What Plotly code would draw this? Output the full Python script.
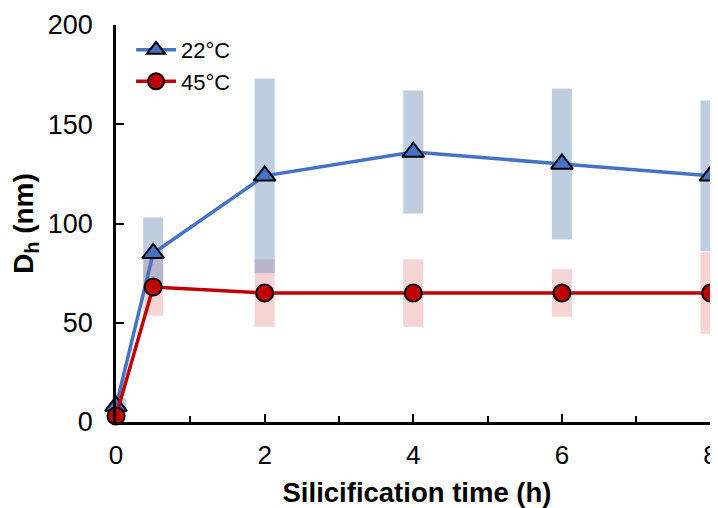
import plotly.graph_objects as go

time_h = [0, 0.5, 2, 4, 6, 8]
dh_22 = [8, 85, 124, 136, 130, 124]
err_22 = [4, 18, 49, 31, 38, 38]
dh_45 = [3, 68, 65, 65, 65, 65]
err_45 = [2, 14.5, 17, 17, 12, 20.5]
x_ticks = [0, 2, 4, 6, 8]
y_ticks = [0, 50, 100, 150, 200]

FONT = "Liberation Sans, Arial, sans-serif"
BLUE = "#4472C4"
RED = "#C00000"

fig = go.Figure()

# shaded ranges (red first, blue over it)
fig.add_trace(go.Bar(
    x=time_h, y=[2 * e for e in err_45], base=[m - e for m, e in zip(dh_45, err_45)],
    width=0.27, marker=dict(color="rgba(228,120,120,0.32)", line=dict(width=0)),
    showlegend=False, hoverinfo="skip"))
fig.add_trace(go.Bar(
    x=time_h, y=[2 * e for e in err_22], base=[m - e for m, e in zip(dh_22, err_22)],
    width=0.27, marker=dict(color="rgba(122,150,192,0.48)", line=dict(width=0)),
    showlegend=False, hoverinfo="skip"))

fig.add_trace(go.Scatter(
    x=time_h, y=dh_22, name="22°C", mode="lines+markers",
    line=dict(color=BLUE, width=3.5),
    marker=dict(symbol="triangle-up", size=19, color=BLUE, line=dict(color="black", width=2)),
    cliponaxis=False))
fig.add_trace(go.Scatter(
    x=time_h, y=dh_45, name="45°C", mode="lines+markers",
    line=dict(color=RED, width=3.5),
    marker=dict(symbol="circle", size=17, color=RED, line=dict(color="black", width=2)),
    cliponaxis=False))

fig.update_layout(
    width=710, height=500,
    margin=dict(l=108, r=0, t=17, b=86),
    plot_bgcolor="white", paper_bgcolor="white",
    barmode="overlay",
    font=dict(family=FONT, size=26, color="black"),
    legend=dict(x=0.025, y=0.99, xanchor="left", yanchor="top",
                font=dict(size=22), bgcolor="rgba(0,0,0,0)",
                itemwidth=40, tracegroupgap=0),
    xaxis=dict(range=[0, 8.1], tickvals=x_ticks, ticktext=[str(v) for v in x_ticks],
               showgrid=False, zeroline=False, showline=True, linecolor="black", linewidth=2.5,
               ticks="inside", ticklen=8, tickwidth=2, tickcolor="black",
               ticklabelstandoff=8,
               minor=dict(tickvals=[1, 3, 5, 7], ticks="inside", ticklen=6, tickwidth=2, tickcolor="black"),
               tickfont=dict(size=26),
               title=dict(text="<b>Silicification time (h)</b>", font=dict(size=27.5), standoff=14)),
    yaxis=dict(range=[0, 200], tickvals=y_ticks, ticktext=[str(v) for v in y_ticks],
               showgrid=False, zeroline=False, showline=True, linecolor="black", linewidth=2.5,
               ticks="inside", ticklen=8, tickwidth=2, tickcolor="black",
               ticklabelstandoff=15,
               tickfont=dict(size=27),
               title=dict(text="<b>D<sub>h</sub> (nm)</b>", font=dict(size=28), standoff=6)),
)

fig.write_html("out.html")
